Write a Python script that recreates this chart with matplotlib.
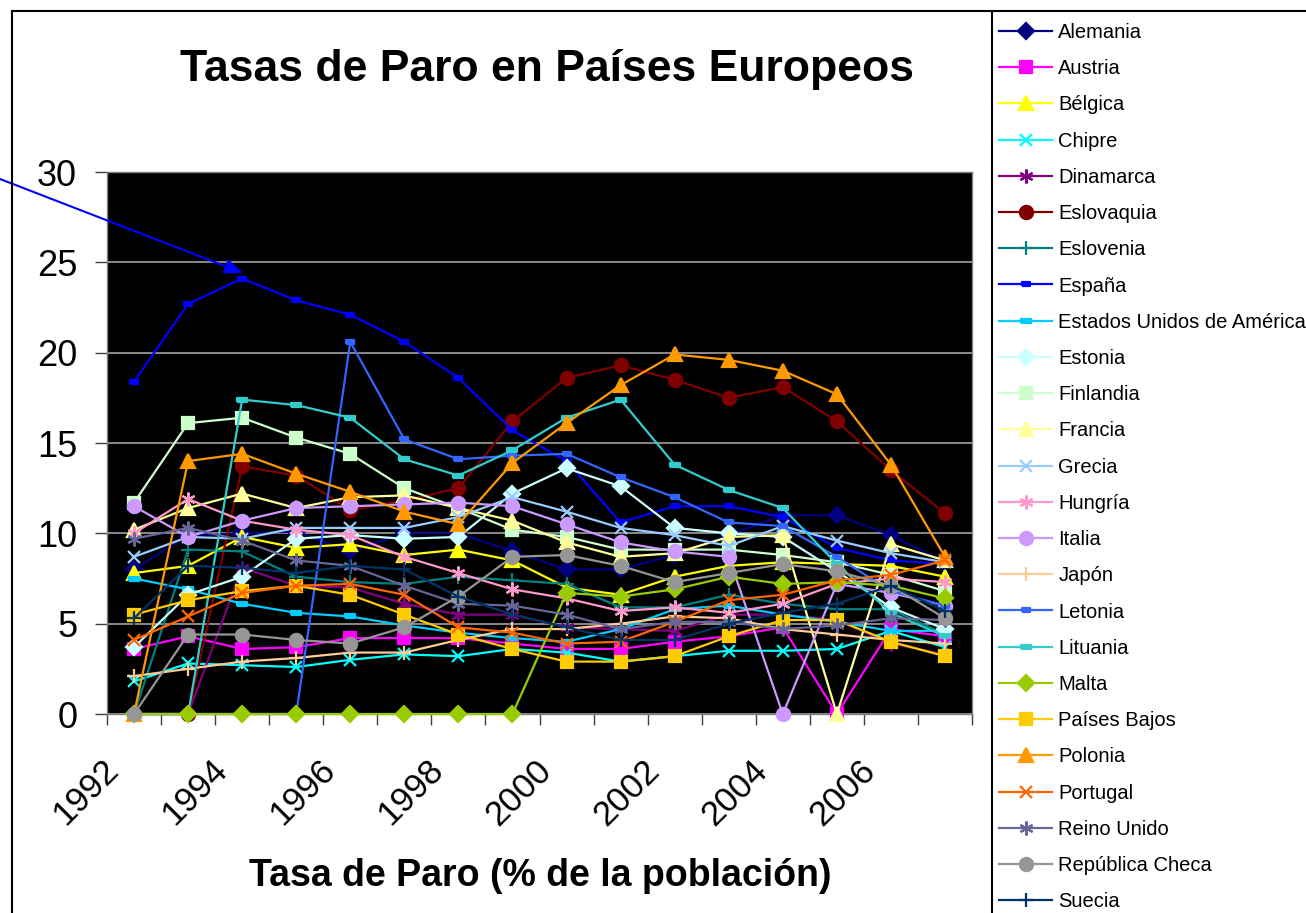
import matplotlib
matplotlib.use("Agg")
import matplotlib.pyplot as plt
from matplotlib.lines import Line2D
from matplotlib.transforms import ScaledTranslation

plt.rcParams['font.family'] = ['Liberation Sans', 'DejaVu Sans']

years = list(range(1992, 2008))
year_labels = [str(y) for y in range(1992, 2008, 2)]

alemania = [8.0, 9.9, 10.0, 10.1, 9.0, 10.0, 10.0, 9.0, 8.0, 8.0, 8.8, 9.9, 11.0, 11.0, 9.9, 8.4]
austria = [3.6, 4.3, 3.6, 3.7, 4.2, 4.2, 4.2, 3.9, 3.6, 3.6, 4.0, 4.3, 4.8, 0.0, 4.7, 4.3]
belgica = [7.8, 8.2, 9.8, 9.2, 9.4, 8.8, 9.1, 8.5, 7.0, 6.6, 7.6, 8.2, 8.4, 8.3, 8.2, 7.6]
chipre = [1.8, 2.8, 2.7, 2.6, 3.0, 3.3, 3.2, 3.6, 3.4, 2.9, 3.2, 3.5, 3.5, 3.6, 4.6, 3.7]
dinamarca = [0.0, 0.0, 8.1, 7.1, 7.0, 6.1, 5.5, 5.5, 4.8, 4.7, 4.6, 5.5, 5.5, 5.2, 3.9, 3.3]
eslovaquia = [0.0, 0.0, 13.7, 13.2, 11.3, 11.8, 12.5, 16.2, 18.6, 19.3, 18.5, 17.5, 18.1, 16.2, 13.5, 11.1]
eslovenia = [0.0, 9.1, 9.0, 7.6, 7.3, 7.2, 7.6, 7.4, 7.2, 5.9, 5.9, 6.6, 6.1, 5.8, 5.8, 4.4]
espana = [18.4, 22.7, 24.1, 22.9, 22.1, 20.6, 18.6, 15.7, 14.0, 10.6, 11.5, 11.5, 10.9, 9.2, 8.5, 8.3]
eeuu = [7.5, 6.9, 6.1, 5.6, 5.4, 4.9, 4.5, 4.2, 4.0, 4.7, 5.8, 6.0, 5.5, 5.1, 4.6, 4.6]
estonia = [3.7, 6.6, 7.6, 9.7, 9.9, 9.7, 9.8, 12.2, 13.6, 12.6, 10.3, 10.0, 9.8, 7.9, 5.9, 4.7]
finlandia = [11.7, 16.1, 16.4, 15.3, 14.4, 12.5, 11.4, 10.2, 9.8, 9.1, 9.1, 9.1, 8.8, 8.4, 7.7, 6.8]
francia = [10.2, 11.4, 12.2, 11.4, 12.0, 12.1, 11.4, 10.7, 9.5, 8.7, 8.9, 9.8, 9.9, 0.0, 9.4, 8.5]
grecia = [8.7, 9.8, 9.7, 10.3, 10.3, 10.3, 10.9, 12.0, 11.2, 10.3, 9.9, 9.3, 10.4, 9.6, 8.9, 8.4]
hungria = [10.0, 11.9, 10.7, 10.2, 9.9, 8.7, 7.8, 6.9, 6.4, 5.7, 5.9, 5.6, 6.1, 7.2, 7.5, 7.3]
italia = [11.5, 9.8, 10.7, 11.4, 11.5, 11.6, 11.7, 11.5, 10.5, 9.5, 9.0, 8.7, 0.0, 7.2, 6.7, 6.0]
japon = [2.1, 2.5, 2.9, 3.1, 3.4, 3.4, 4.1, 4.7, 4.7, 5.0, 5.4, 5.3, 4.7, 4.4, 4.1, 3.9]
letonia = [0.0, 0.0, 0.0, 0.0, 20.6, 15.2, 14.1, 14.3, 14.4, 13.1, 12.0, 10.6, 10.4, 8.7, 6.8, 6.0]
lituania = [0.0, 0.0, 17.4, 17.1, 16.4, 14.1, 13.2, 14.6, 16.4, 17.4, 13.8, 12.4, 11.4, 8.3, 5.6, 4.3]
malta = [0.0, 0.0, 0.0, 0.0, 0.0, 0.0, 0.0, 0.0, 6.7, 6.5, 6.9, 7.6, 7.2, 7.3, 7.1, 6.4]
paises_bajos = [5.5, 6.3, 6.8, 7.1, 6.6, 5.5, 4.4, 3.6, 2.9, 2.9, 3.2, 4.3, 5.2, 5.2, 4.0, 3.2]
polonia = [0.0, 14.0, 14.4, 13.3, 12.3, 11.2, 10.5, 13.9, 16.1, 18.2, 19.9, 19.6, 19.0, 17.7, 13.8, 8.7]
portugal = [4.1, 5.4, 6.7, 7.1, 7.2, 6.6, 4.8, 4.5, 3.9, 4.0, 5.1, 6.3, 6.6, 7.4, 7.7, 8.5]
reino_unido = [9.7, 10.3, 9.6, 8.5, 8.2, 7.1, 6.1, 6.0, 5.5, 4.7, 5.1, 5.1, 4.7, 4.9, 5.3, 5.2]
rep_checa = [0.0, 4.4, 4.4, 4.1, 3.9, 4.8, 6.5, 8.7, 8.8, 8.2, 7.3, 7.8, 8.3, 7.9, 7.1, 5.3]
suecia = [5.3, 8.2, 8.1, 7.8, 8.2, 8.0, 6.5, 5.5, 4.8, 4.1, 4.1, 5.0, 5.6, 6.1, 7.1, 5.7]

# excel style "short dash" marker
dash = [(-1, -0.4), (1, -0.4), (1, 0.4), (-1, 0.4), (-1, -0.4)]
star = (6, 2, 0)

series = [
    ("Alemania", alemania, '#000080', 'D', 8),
    ("Austria", austria, '#FF00FF', 's', 8.5),
    ("Bélgica", belgica, '#FFFF00', '^', 9.5),
    ("Chipre", chipre, '#00FFFF', 'x', 9),
    ("Dinamarca", dinamarca, '#800080', star, 10),
    ("Eslovaquia", eslovaquia, '#800000', 'o', 9.5),
    ("Eslovenia", eslovenia, '#008080', '+', 10),
    ("España", espana, '#0000FF', dash, 6),
    ("Estados Unidos de América", eeuu, '#00CCFF', dash, 7),
    ("Estonia", estonia, '#CCFFFF', 'D', 8),
    ("Finlandia", finlandia, '#CCFFCC', 's', 8.5),
    ("Francia", francia, '#FFFF99', '^', 9.5),
    ("Grecia", grecia, '#99CCFF', 'x', 9),
    ("Hungría", hungria, '#FF99CC', star, 10),
    ("Italia", italia, '#CC99FF', 'o', 9.5),
    ("Japón", japon, '#FFCC99', '+', 10),
    ("Letonia", letonia, '#3366FF', dash, 6),
    ("Lituania", lituania, '#33CCCC', dash, 7),
    ("Malta", malta, '#99CC00', 'D', 8),
    ("Países Bajos", paises_bajos, '#FFCC00', 's', 8.5),
    ("Polonia", polonia, '#FF9900', '^', 9.5),
    ("Portugal", portugal, '#FF6600', 'x', 9),
    ("Reino Unido", reino_unido, '#666699', star, 10),
    ("República Checa", rep_checa, '#969696', 'o', 9.5),
    ("Suecia", suecia, '#003366', '+', 10),
]

W, H = 1306, 913
fig = plt.figure(figsize=(W / 100, H / 100), dpi=100)
ax = fig.add_axes([107 / W, 1 - 714 / H, (972 - 107) / W, (714 - 172) / H])
ax.set_facecolor('black')

handles = []
for name, vals, color, mk, ms in series:
    h, = ax.plot(years, vals, color=color, lw=1.6, marker=mk, markersize=ms,
                 markerfacecolor=color, markeredgecolor=color, markeredgewidth=1.6,
                 label=name, clip_on=False, zorder=3)
    handles.append(h)

ax.set_xlim(1991.5, 2007.5)
ax.set_ylim(0, 30)
ax.set_yticks(range(0, 31, 5))
ax.yaxis.grid(True, color='#A0A0A0', lw=1.2)
ax.set_axisbelow(True)
ax.tick_params(axis='y', labelsize=26, length=9, width=1, color='#404040', pad=12.5)

# tick marks between categories, labels every second year
ax.set_xticks([y - 0.5 for y in years] + [2007.5])
ax.set_xticklabels([])
ax.tick_params(axis='x', which='major', length=8, width=1, color='#404040')
ax.set_xticks(range(1992, 2008, 2), minor=True)
ax.set_xticklabels(year_labels, minor=True, rotation=45, ha='right',
                   rotation_mode='anchor', fontsize=25)
ax.tick_params(axis='x', which='minor', length=0, pad=14)
shift = ScaledTranslation(-0.32, -0.20, fig.dpi_scale_trans)
for lab in ax.get_xticklabels(minor=True):
    lab.set_transform(lab.get_transform() + shift)

for s in ax.spines.values():
    s.set_color('#808080')
    s.set_linewidth(1)

fig.text(547 / W, 1 - 70 / H, "Tasas de Paro en Países Europeos",
         fontsize=32, fontweight='bold', ha='center', va='center')
fig.text(540 / W, 1 - 876 / H, "Tasa de Paro (% de la población)",
         fontsize=27, fontweight='bold', ha='center', va='center')

# arrow annotation pointing at Spain 1994
ax.annotate('', xy=(243 / W, 1 - 273 / H), xycoords='figure fraction',
            xytext=(0, 1 - 179 / H), textcoords='figure fraction',
            arrowprops=dict(arrowstyle='-|>,head_length=1.1,head_width=0.45',
                            color='#0000FF', lw=1.5, shrinkA=0, shrinkB=0),
            annotation_clip=False, zorder=5)

# chart frame and legend box edges (cut by the image border)
fig.add_artist(Line2D([12 / W, 12 / W], [0, 1 - 11 / H], transform=fig.transFigure, color='black', lw=1.5))
fig.add_artist(Line2D([12 / W, 1], [1 - 11 / H, 1 - 11 / H], transform=fig.transFigure, color='black', lw=1.5))
fig.add_artist(Line2D([992 / W, 992 / W], [0, 1 - 11 / H], transform=fig.transFigure, color='black', lw=1.5))

leg = fig.legend(handles=handles, loc='upper left', bbox_to_anchor=(999 / W, 1 - 23 / H),
                 frameon=False, fontsize=14.5, labelspacing=0.855, handlelength=2.65,
                 handletextpad=0.3, borderpad=0, borderaxespad=0)

fig.savefig("out.png", dpi=100)
